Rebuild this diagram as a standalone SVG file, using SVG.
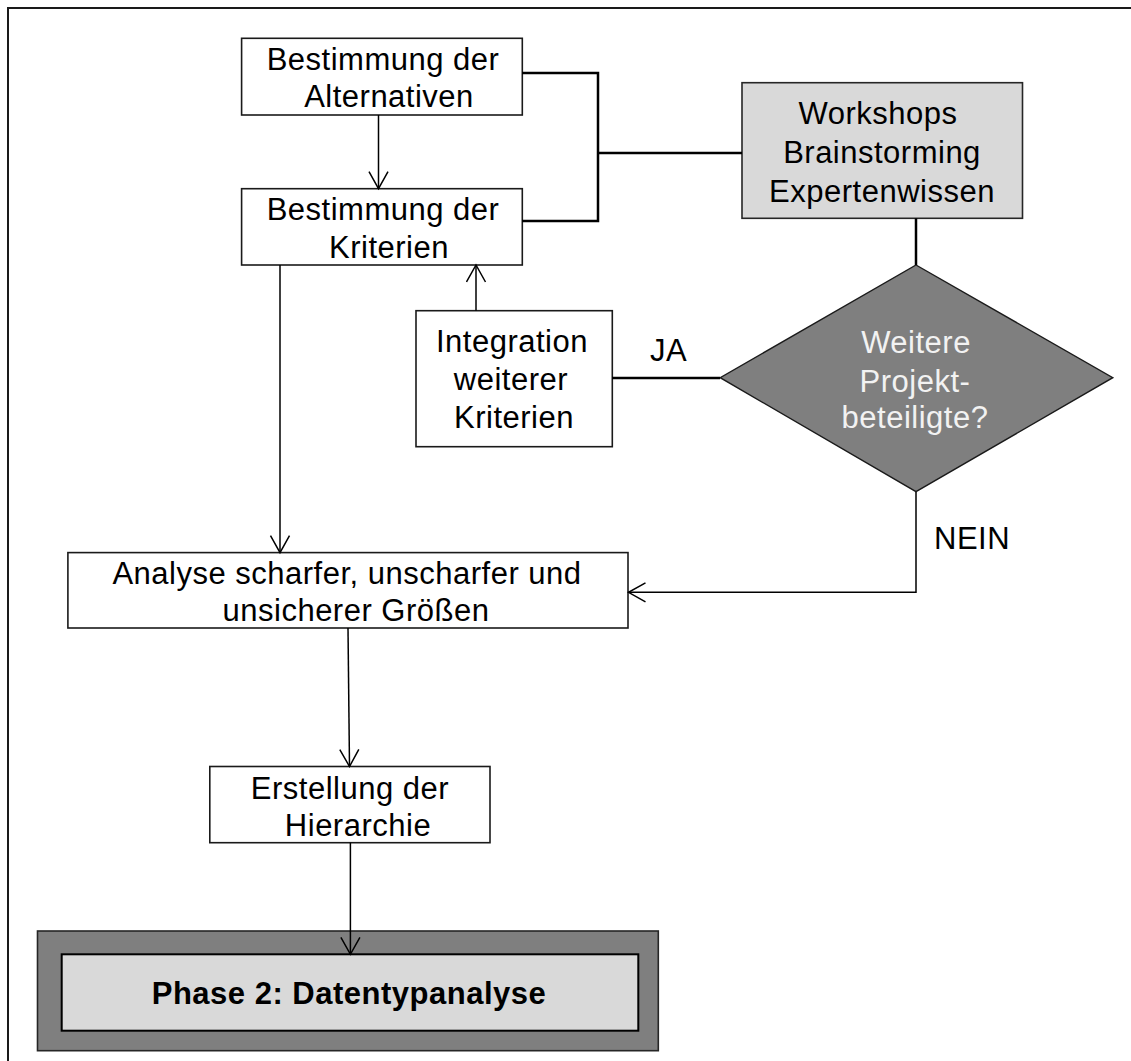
<svg xmlns="http://www.w3.org/2000/svg" width="1131" height="1061" viewBox="0 0 1131 1061">
  <defs>
    <marker id="arrow" markerUnits="userSpaceOnUse" markerWidth="22" markerHeight="24" refX="18" refY="10.5" orient="auto">
      <path d="M1,1 L18,10.5 L1,20" fill="none" stroke="#000" stroke-width="1.5"/>
    </marker>
    <style>
      text { font-family: "Liberation Sans", Arial, sans-serif; font-size: 31px; letter-spacing: 0.5px; fill: #000; }
      .c { text-anchor: middle; }
      .box { fill: #fff; stroke: #1a1a1a; stroke-width: 1.6; }
      .tool { fill: #d9d9d9; stroke: #262626; stroke-width: 1.6; }
      .dec { fill: #7f7f7f; stroke: #1a1a1a; stroke-width: 1.4; }
      .light { fill: #f2f2f2; }
      .bold { font-weight: bold; }
      .flow { fill: none; stroke: #000; stroke-width: 1.5; }
      .link { fill: none; stroke: #000; stroke-width: 2.5; }
    </style>
  </defs>

  <rect width="1131" height="1061" fill="#fff"/>

  <!-- frame: top and left edges only -->
  <path d="M8,1061 V8 H1131" fill="none" stroke="#1a1a1a" stroke-width="2"/>

  <g id="alternativen">
    <rect class="box" x="241.6" y="38.3" width="280.7" height="76.7"/>
    <text class="c" x="383" y="70">Bestimmung der</text>
    <text class="c" x="389" y="107">Alternativen</text>
  </g>

  <g id="kriterien">
    <rect class="box" x="241.6" y="188.7" width="280.7" height="76.3"/>
    <text class="c" x="383" y="220">Bestimmung der</text>
    <text class="c" x="389" y="258">Kriterien</text>
  </g>

  <g id="methoden">
    <rect class="tool" x="742" y="82.7" width="280.5" height="135.6"/>
    <text class="c" x="878" y="124">Workshops</text>
    <text class="c" x="882" y="163">Brainstorming</text>
    <text class="c" x="882" y="202">Expertenwissen</text>
  </g>

  <g id="integration">
    <rect class="box" x="416" y="310.7" width="196.3" height="136"/>
    <text class="c" x="512" y="352">Integration</text>
    <text class="c" x="511" y="390">weiterer</text>
    <text class="c" x="514" y="428">Kriterien</text>
  </g>

  <g id="entscheidung">
    <polygon class="dec" points="916,265 1112.8,377.7 916,491.7 720.2,377.7"/>
    <text class="c light" x="916" y="353">Weitere</text>
    <text class="c light" x="915" y="392">Projekt-</text>
    <text class="c light" x="915" y="428">beteiligte?</text>
  </g>

  <g id="analyse">
    <rect class="box" x="67.9" y="552.6" width="560.1" height="75.4"/>
    <text class="c" x="347" y="584">Analyse scharfer, unscharfer und</text>
    <text class="c" x="356" y="621">unsicherer Größen</text>
  </g>

  <g id="hierarchie">
    <rect class="box" x="209.8" y="766.5" width="280.2" height="76.2"/>
    <text class="c" x="350" y="799">Erstellung der</text>
    <text class="c" x="358" y="836">Hierarchie</text>
  </g>

  <g id="phase2">
    <rect x="37.5" y="931" width="620.8" height="119.7" fill="#7f7f7f" stroke="#262626" stroke-width="1.6"/>
    <rect x="61.7" y="954.3" width="576.6" height="76.4" fill="#d9d9d9" stroke="#000" stroke-width="2"/>
    <text class="c bold" x="349" y="1004">Phase 2: Datentypanalyse</text>
  </g>

  <!-- connectors, drawn last so arrowheads sit on top of the boxes -->
  <g id="connectors">
    <path class="flow" d="M378.5,115 V188.7" marker-end="url(#arrow)"/>
    <path class="link" d="M522,73 H598 V221 H522"/>
    <path class="link" d="M598,153 H742"/>
    <path class="flow" d="M280,265 V552.6" marker-end="url(#arrow)"/>
    <path class="flow" d="M476,310.7 V265" marker-end="url(#arrow)"/>
    <path class="link" d="M612,378 H720"/>
    <path class="link" d="M916,218.3 V265" stroke-width="2"/>
    <path class="flow" d="M916,492 V592.3 H628.5" stroke-width="2" marker-end="url(#arrow)"/>
    <path class="flow" d="M348,628 L349.5,766.5" marker-end="url(#arrow)"/>
    <path class="flow" d="M350.4,842.7 V954.3" marker-end="url(#arrow)"/>
    <text x="650" y="361">JA</text>
    <text x="934" y="549">NEIN</text>
  </g>
</svg>
